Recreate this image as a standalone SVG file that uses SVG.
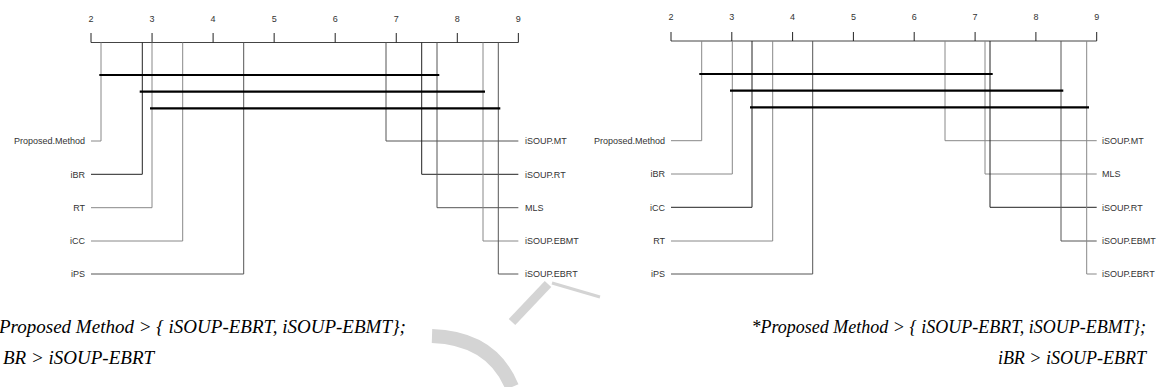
<svg xmlns="http://www.w3.org/2000/svg" width="1159" height="387" viewBox="0 0 1159 387">
<style>
  .bg{fill:#ffffff}
  .tick{font-family:"Liberation Sans",Arial,sans-serif;font-size:9px;fill:#333;text-anchor:middle}
  .lab{font-family:"Liberation Sans",Arial,sans-serif;font-size:9px;fill:#333}
  .labL{text-anchor:end}
  .axis{stroke:#444;stroke-width:1;fill:none}
  .tk{stroke:#222;stroke-width:1;fill:none}
  .ln{fill:none;stroke-width:1}
  .g{stroke:#888}
  .m{stroke:#555}
  .d{stroke:#222}
  .bar{stroke:#000;stroke-width:2.2;fill:none}
  .cap{font-family:"Liberation Serif","Times New Roman",serif;font-style:italic;font-size:18px;fill:#000}
  .capL{font-size:19px}
  .wm{fill:none;stroke:#d4d4d4}
</style>
<rect class="bg" x="0" y="0" width="1159" height="387"/>

<!-- watermark fragments -->
<g id="watermark">
  <path class="wm" d="M432 336 Q492 338 512 387" stroke-width="14"/>
  <path class="wm" d="M512 322 L548 284" stroke-width="9"/>
  <path class="wm" d="M552 283 L600 297" stroke-width="3"/>
</g>

<!-- LEFT DIAGRAM -->
<g id="left-axis">
  <path class="axis" d="M91 42.5 H518.35"/>
  <path class="tk" d="M91 33 V42.5 M152.05 33 V42.5 M213.1 33 V42.5 M274.15 33 V42.5 M335.2 33 V42.5 M396.25 33 V42.5 M457.3 33 V42.5 M518.35 33 V42.5"/>
  <text class="tick" x="91" y="21.5">2</text>
  <text class="tick" x="152.05" y="21.5">3</text>
  <text class="tick" x="213.1" y="21.5">4</text>
  <text class="tick" x="274.15" y="21.5">5</text>
  <text class="tick" x="335.2" y="21.5">6</text>
  <text class="tick" x="396.25" y="21.5">7</text>
  <text class="tick" x="457.3" y="21.5">8</text>
  <text class="tick" x="518.35" y="21.5">9</text>
</g>
<g id="left-connectors">
  <path class="ln g" d="M101 42.5 V141 H91"/>
  <path class="ln d" d="M142.3 42.5 V174.3 H91"/>
  <path class="ln g" d="M152 42.5 V207.7 H91"/>
  <path class="ln g" d="M182.7 42.5 V241 H91"/>
  <path class="ln m" d="M243.7 42.5 V274 H91"/>
  <path class="ln m" d="M386 42.5 V141 H518.35"/>
  <path class="ln d" d="M421.7 42.5 V174.3 H518.35"/>
  <path class="ln m" d="M437 42.5 V207.7 H518.35"/>
  <path class="ln g" d="M483 42.5 V241 H518.35"/>
  <path class="ln m" d="M498.3 42.5 V274 H518.35"/>
  <path class="bar" d="M99.3 75 H439.3"/>
  <path class="bar" d="M139.7 91.7 H485"/>
  <path class="bar" d="M150 108.3 H500.3"/>
</g>
<g id="L-Proposed.Method"><text class="lab labL" x="85" y="144.2">Proposed.Method</text></g>
<g id="L-iBR"><text class="lab labL" x="85" y="177.5">iBR</text></g>
<g id="L-RT"><text class="lab labL" x="85" y="210.9">RT</text></g>
<g id="L-iCC"><text class="lab labL" x="85" y="244.2">iCC</text></g>
<g id="L-iPS"><text class="lab labL" x="85" y="277.2">iPS</text></g>
<g id="L-iSOUP.MT"><text class="lab" x="525" y="144.2">iSOUP.MT</text></g>
<g id="L-iSOUP.RT"><text class="lab" x="525" y="177.5">iSOUP.RT</text></g>
<g id="L-MLS"><text class="lab" x="525" y="210.9">MLS</text></g>
<g id="L-iSOUP.EBMT"><text class="lab" x="525" y="244.2">iSOUP.EBMT</text></g>
<g id="L-iSOUP.EBRT"><text class="lab" x="525" y="277.2">iSOUP.EBRT</text></g>

<!-- RIGHT DIAGRAM -->
<g id="right-axis">
  <path class="axis" d="M671 41 H1096.7"/>
  <path class="tk" d="M671 32 V41 M731.8 32 V41 M792.6 32 V41 M853.4 32 V41 M914.2 32 V41 M975.1 32 V41 M1035.9 32 V41 M1096.7 32 V41"/>
  <text class="tick" x="671" y="20">2</text>
  <text class="tick" x="731.8" y="20">3</text>
  <text class="tick" x="792.6" y="20">4</text>
  <text class="tick" x="853.4" y="20">5</text>
  <text class="tick" x="914.2" y="20">6</text>
  <text class="tick" x="975.1" y="20">7</text>
  <text class="tick" x="1035.9" y="20">8</text>
  <text class="tick" x="1096.7" y="20">9</text>
</g>
<g id="right-connectors">
  <path class="ln g" d="M701.7 41 V140.7 H671"/>
  <path class="ln g" d="M732.3 41 V174 H671"/>
  <path class="ln d" d="M752 41 V207.3 H671"/>
  <path class="ln g" d="M772.7 41 V241 H671"/>
  <path class="ln m" d="M812.7 41 V274 H671"/>
  <path class="ln g" d="M945 41 V140.7 H1096.7"/>
  <path class="ln g" d="M985 41 V174 H1096.7"/>
  <path class="ln d" d="M990 41 V207.3 H1096.7"/>
  <path class="ln m" d="M1061 41 V241 H1096.7"/>
  <path class="ln g" d="M1086.7 41 V274 H1096.7"/>
  <path class="bar" d="M699.3 74 H992.7"/>
  <path class="bar" d="M730 90.7 H1063.3"/>
  <path class="bar" d="M750 107.3 H1089"/>
</g>
<g id="R-Proposed.Method"><text class="lab labL" x="665" y="143.9">Proposed.Method</text></g>
<g id="R-iBR"><text class="lab labL" x="665" y="177.2">iBR</text></g>
<g id="R-iCC"><text class="lab labL" x="665" y="210.5">iCC</text></g>
<g id="R-RT"><text class="lab labL" x="665" y="244.2">RT</text></g>
<g id="R-iPS"><text class="lab labL" x="665" y="277.2">iPS</text></g>
<g id="R-iSOUP.MT"><text class="lab" x="1102" y="143.9">iSOUP.MT</text></g>
<g id="R-MLS"><text class="lab" x="1102" y="177.2">MLS</text></g>
<g id="R-iSOUP.RT"><text class="lab" x="1102" y="210.5">iSOUP.RT</text></g>
<g id="R-iSOUP.EBMT"><text class="lab" x="1102" y="244.2">iSOUP.EBMT</text></g>
<g id="R-iSOUP.EBRT"><text class="lab" x="1102" y="277.2">iSOUP.EBRT</text></g>

<!-- captions -->
<g id="captions">
  <text class="cap capL" x="-1" y="333">Proposed Method &gt; { iSOUP-EBRT, iSOUP-EBMT};</text>
  <text class="cap capL" x="3" y="364">BR &gt; iSOUP-EBRT</text>
  <text class="cap" x="1146" y="333" text-anchor="end">*Proposed Method &gt; { iSOUP-EBRT, iSOUP-EBMT};</text>
  <text class="cap" x="1146" y="364" text-anchor="end">iBR &gt; iSOUP-EBRT</text>
</g>
</svg>
